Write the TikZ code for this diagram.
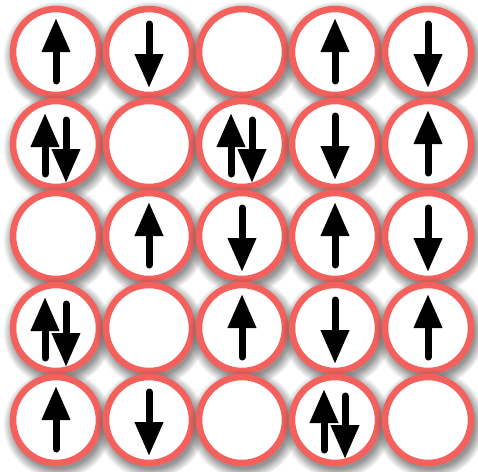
\documentclass[tikz,border=0pt]{standalone}
\usetikzlibrary{arrows.meta,shadows,fadings}
\definecolor{ringred}{RGB}{244,96,92}
\tikzset{
  site/.style={circle,draw=ringred,line width=6.5pt,fill=white,minimum size=86pt,inner sep=0pt,
    drop shadow={shadow xshift=1.5pt,shadow yshift=-3pt,shadow scale=1.28,opacity=0.6,fill=black!70,
      path fading={circle with fuzzy edge 20 percent}}},
  spin/.style={line width=7pt,line cap=round,-{Triangle[width=27pt,length=34pt]}}
}
\begin{document}
\begin{tikzpicture}[x=93pt,y=-92pt]
\useasboundingbox (-56pt,52pt) rectangle (422pt,-419pt);
% lattice sites
\node[site] (s11) at (0,0) {};
\node[site] (s12) at (1,0) {};
\node[site] (s13) at (2,0) {};
\node[site] (s14) at (3,0) {};
\node[site] (s15) at (4,0) {};
\node[site] (s21) at (0,1) {};
\node[site] (s22) at (1,1) {};
\node[site] (s23) at (2,1) {};
\node[site] (s24) at (3,1) {};
\node[site] (s25) at (4,1) {};
\node[site] (s31) at (0,2) {};
\node[site] (s32) at (1,2) {};
\node[site] (s33) at (2,2) {};
\node[site] (s34) at (3,2) {};
\node[site] (s35) at (4,2) {};
\node[site] (s41) at (0,3) {};
\node[site] (s42) at (1,3) {};
\node[site] (s43) at (2,3) {};
\node[site] (s44) at (3,3) {};
\node[site] (s45) at (4,3) {};
\node[site] (s51) at (0,4) {};
\node[site] (s52) at (1,4) {};
\node[site] (s53) at (2,4) {};
\node[site] (s54) at (3,4) {};
\node[site] (s55) at (4,4) {};
% row 1
\draw[spin] ([yshift=-29pt]s11.center) -- ([yshift=34pt]s11.center);
\draw[spin] ([yshift=28pt]s12.center) -- ([yshift=-36pt]s12.center);
\draw[spin] ([yshift=-29pt]s14.center) -- ([yshift=34pt]s14.center);
\draw[spin] ([yshift=28pt]s15.center) -- ([yshift=-36pt]s15.center);
% row 2
\draw[spin] ([xshift=-11pt,yshift=-30pt]s21.center) -- ([xshift=-11pt,yshift=31pt]s21.center);
\draw[spin] ([xshift=10pt,yshift=24pt]s21.center) -- ([xshift=10pt,yshift=-39pt]s21.center);
\draw[spin] ([xshift=-11pt,yshift=-30pt]s23.center) -- ([xshift=-11pt,yshift=31pt]s23.center);
\draw[spin] ([xshift=10pt,yshift=24pt]s23.center) -- ([xshift=10pt,yshift=-39pt]s23.center);
\draw[spin] ([yshift=28pt]s24.center) -- ([yshift=-36pt]s24.center);
\draw[spin] ([yshift=-29pt]s25.center) -- ([yshift=34pt]s25.center);
% row 3
\draw[spin] ([yshift=-29pt]s32.center) -- ([yshift=34pt]s32.center);
\draw[spin] ([yshift=28pt]s33.center) -- ([yshift=-36pt]s33.center);
\draw[spin] ([yshift=-29pt]s34.center) -- ([yshift=34pt]s34.center);
\draw[spin] ([yshift=28pt]s35.center) -- ([yshift=-36pt]s35.center);
% row 4
\draw[spin] ([xshift=-11pt,yshift=-30pt]s41.center) -- ([xshift=-11pt,yshift=31pt]s41.center);
\draw[spin] ([xshift=10pt,yshift=24pt]s41.center) -- ([xshift=10pt,yshift=-39pt]s41.center);
\draw[spin] ([yshift=-29pt]s43.center) -- ([yshift=34pt]s43.center);
\draw[spin] ([yshift=28pt]s44.center) -- ([yshift=-36pt]s44.center);
\draw[spin] ([yshift=-29pt]s45.center) -- ([yshift=34pt]s45.center);
% row 5
\draw[spin] ([yshift=-29pt]s51.center) -- ([yshift=34pt]s51.center);
\draw[spin] ([yshift=28pt]s52.center) -- ([yshift=-36pt]s52.center);
\draw[spin] ([xshift=-11pt,yshift=-30pt]s54.center) -- ([xshift=-11pt,yshift=31pt]s54.center);
\draw[spin] ([xshift=10pt,yshift=24pt]s54.center) -- ([xshift=10pt,yshift=-39pt]s54.center);
\end{tikzpicture}
\end{document}
